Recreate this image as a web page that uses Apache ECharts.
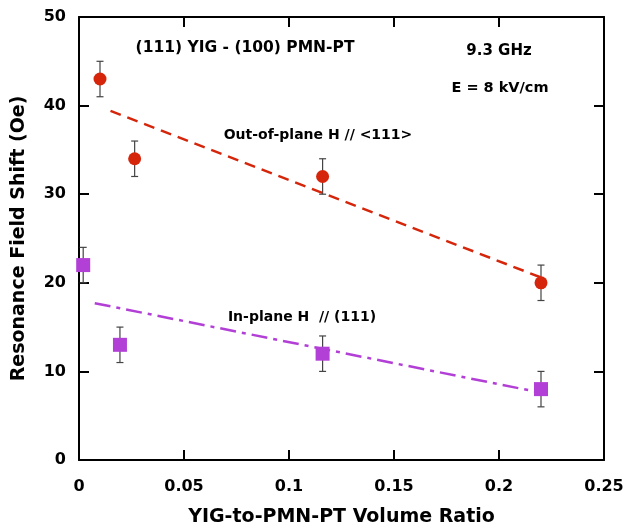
<!DOCTYPE html>
<html><head><meta charset="utf-8">
<script src="https://cdn.jsdelivr.net/npm/echarts@6/dist/echarts.min.js"></script>
<style>html,body{margin:0;padding:0;background:#fff}#c{width:625px;height:527px}</style>
</head><body><div id="c"></div>
<script>
// Data
const outX = [0.010, 0.0265, 0.116, 0.220];
const outY = [43, 34, 32, 20];
const outErr = [2, 2, 2, 2];
const inX = [0.002, 0.0195, 0.116, 0.220];
const inY = [22, 13, 12, 8];
const inErr = [2, 2, 2, 2];
const outFitX = [0.015, 0.220];
const outFitY = [39.4, 20.6];
const inFitX = [0.0075, 0.220];
const inFitY = [17.7, 7.6];
const xTicks = [0, 0.05, 0.1, 0.15, 0.2, 0.25];
const yTicks = [0, 10, 20, 30, 40, 50];

const RED = '#d5260c', PURPLE = '#b23fd6';
const FONT = 'DejaVu Sans';
const zip = (a, b) => a.map((v, i) => [v, b[i]]);

function errSeries(xs, ys, es) {
  return {
    type: 'custom', z: 1,
    data: xs.map((x, i) => [x, ys[i] - es[i], ys[i] + es[i]]),
    renderItem: function (params, api) {
      const lo = api.coord([api.value(0), api.value(1)]);
      const hi = api.coord([api.value(0), api.value(2)]);
      const w = 3.5;
      const st = { stroke: '#444', lineWidth: 1.2 };
      return { type: 'group', children: [
        { type: 'line', shape: { x1: lo[0], y1: lo[1], x2: hi[0], y2: hi[1] }, style: st },
        { type: 'line', shape: { x1: lo[0] - w, y1: lo[1], x2: lo[0] + w, y2: lo[1] }, style: st },
        { type: 'line', shape: { x1: hi[0] - w, y1: hi[1], x2: hi[0] + w, y2: hi[1] }, style: st }
      ]};
    }
  };
}

const chart = echarts.init(document.getElementById('c'), null, { renderer: 'canvas' });
function axisCommon() {
  return {
    axisLine: { show: true, onZero: false, lineStyle: { color: '#000', width: 2 } },
    axisTick: { show: true, inside: true, length: 10, lineStyle: { color: '#000', width: 2 } },
    splitLine: { show: false }
  };
}
const labelStyle = { fontFamily: FONT, fontWeight: 'bold', fontSize: 16, color: '#000' };
chart.setOption({
  animation: false,
  backgroundColor: '#fff',
  grid: { left: 79, right: 21, top: 17, bottom: 67, containLabel: false, outerBoundsMode: 'none' },
  xAxis: [
    Object.assign(axisCommon(), { type: 'value', min: 0, max: 0.25, interval: 0.05, position: 'bottom',
      name: 'YIG-to-PMN-PT Volume Ratio', nameLocation: 'middle', nameGap: 48,
      nameTextStyle: { fontFamily: FONT, fontWeight: 'bold', fontSize: 19, color: '#000' },
      axisLabel: Object.assign({ margin: 19, formatter: v => String(+v.toFixed(2)) }, labelStyle) }),
    Object.assign(axisCommon(), { type: 'value', min: 0, max: 0.25, interval: 0.05, position: 'top',
      axisLabel: { show: false } })
  ],
  yAxis: [
    Object.assign(axisCommon(), { type: 'value', min: 0, max: 50, interval: 10, position: 'left',
      name: 'Resonance Field Shift (Oe)', nameLocation: 'middle', nameGap: 50,
      nameTextStyle: { fontFamily: FONT, fontWeight: 'bold', fontSize: 19, color: '#000' },
      axisLabel: Object.assign({ margin: 13 }, labelStyle) }),
    Object.assign(axisCommon(), { type: 'value', min: 0, max: 50, interval: 10, position: 'right',
      axisLabel: { show: false } })
  ],
  graphic: [
    { type: 'text', x: 245, y: 48, style: { text: '(111) YIG - (100) PMN-PT', font: 'bold 15.5px ' + FONT, fill: '#000', align: 'center', verticalAlign: 'middle' } },
    { type: 'text', x: 499, y: 51, style: { text: '9.3 GHz', font: 'bold 15px ' + FONT, fill: '#000', align: 'center', verticalAlign: 'middle' } },
    { type: 'text', x: 500, y: 88, style: { text: 'E = 8 kV/cm', font: 'bold 14.5px ' + FONT, fill: '#000', align: 'center', verticalAlign: 'middle' } },
    { type: 'text', x: 318, y: 135, style: { text: 'Out-of-plane H // <111>', font: 'bold 14px ' + FONT, fill: '#000', align: 'center', verticalAlign: 'middle' } },
    { type: 'text', x: 302, y: 317, style: { text: 'In-plane H  // (111)', font: 'bold 14px ' + FONT, fill: '#000', align: 'center', verticalAlign: 'middle' } }
  ],
  series: [
    { type: 'line', data: zip(outFitX, outFitY), symbol: 'none', z: 2,
      lineStyle: { color: RED, width: 2.5, type: [11, 7] } },
    { type: 'line', data: zip(inFitX, inFitY), symbol: 'none', z: 2,
      lineStyle: { color: PURPLE, width: 2.5, type: [16, 6, 4, 6] } },
    errSeries(outX, outY, outErr),
    errSeries(inX, inY, inErr),
    { type: 'scatter', data: zip(outX, outY), symbol: 'circle', symbolSize: 13, z: 3,
      itemStyle: { color: RED, opacity: 1 } },
    { type: 'scatter', data: zip(inX, inY), symbol: 'rect', symbolSize: 14, z: 3,
      itemStyle: { color: PURPLE, opacity: 1 } }
  ]
});
</script>
</body></html>
